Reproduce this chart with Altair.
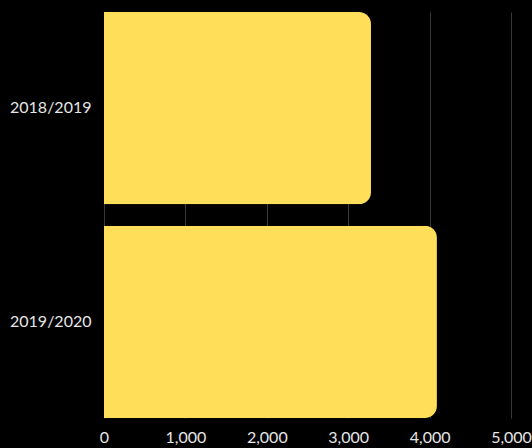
import altair as alt
import pandas as pd

seasons = ["2018/2019", "2019/2020"]
values = [3280, 4090]

df = pd.DataFrame({"season": seasons, "value": values})

chart = alt.Chart(df).mark_bar(
    color="#FFDE59", cornerRadiusEnd=12
).encode(
    x=alt.X("value:Q", scale=alt.Scale(domain=[0, 5000], nice=False),
            axis=alt.Axis(values=[0, 1000, 2000, 3000, 4000, 5000], format=",d",
                          title=None, domain=False, ticks=False, grid=True,
                          gridColor="#3a3a3a", gridWidth=1, labelFlush=False,
                          labelColor="#e6e6e6", labelFont="Lato", labelFontSize=16,
                          labelPadding=11)),
    y=alt.Y("season:N", sort=seasons,
            scale=alt.Scale(paddingInner=0.1, paddingOuter=0),
            axis=alt.Axis(title=None, domain=False, ticks=False,
                          labelColor="#e6e6e6", labelFont="Lato", labelFontSize=16,
                          labelPadding=13)),
).properties(
    width=407, height=406,
    background="#000000",
    padding={"left": 104, "top": 12, "right": 21, "bottom": 30},
    autosize=alt.AutoSizeParams(type="none"),
).configure_view(stroke=None)

chart.save("out.html", embed_options={"renderer": "svg", "actions": False})
